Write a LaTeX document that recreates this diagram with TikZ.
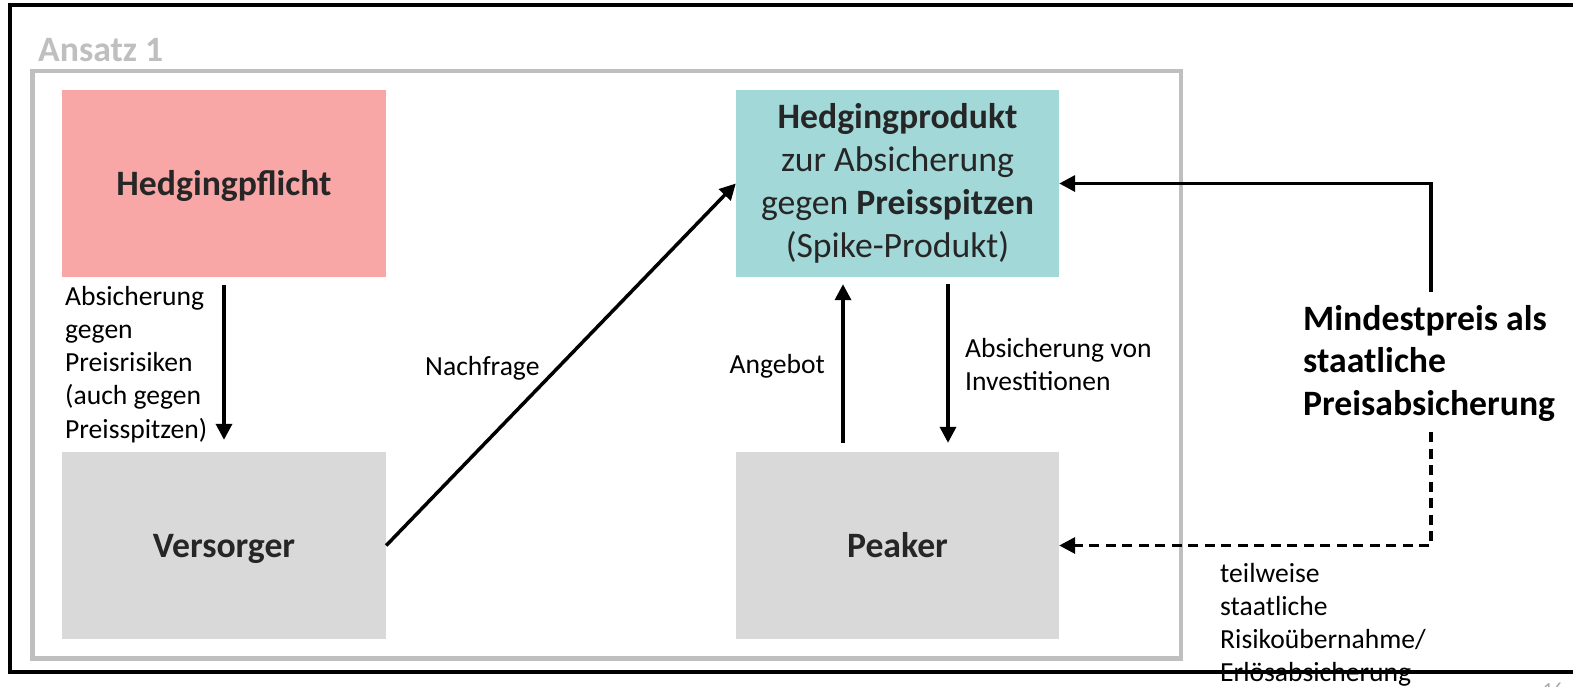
\documentclass[tikz,border=0pt]{standalone}
\usepackage{fontspec}
\setmainfont{Carlito}
\usetikzlibrary{arrows.meta}
\definecolor{pinkbox}{HTML}{F8A6A6}
\definecolor{tealbox}{HTML}{A2D8D8}
\definecolor{graybox}{HTML}{D9D9D9}
\definecolor{framegray}{HTML}{BFBFBF}
\definecolor{boxtext}{HTML}{262626}
\definecolor{pagenum}{HTML}{A6A6A6}
\begin{document}
\begin{tikzpicture}[x=1pt,y=-1pt,
  box/.style={rectangle, minimum width=324pt, minimum height=187pt, inner sep=0pt,
    text=boxtext, font=\fontsize{35.7}{43}\selectfont, align=center},
  single/.style={text height=24pt, text depth=0pt},
  lbl/.style={inner sep=0pt, font=\fontsize{27.6}{33.2}\selectfont, align=left, text=black},
  big/.style={inner sep=0pt, font=\bfseries\fontsize{35.7}{42.5}\selectfont, align=left, text=black},
  arr/.style={line width=3.5pt, -{Triangle[length=16pt,width=16pt]}},
  darr/.style={line width=3.5pt, dash pattern=on 10pt off 6.5pt, -{Triangle[length=16pt,width=16pt]}},
]
\useasboundingbox (0,0) rectangle (1573,686);
\fill[white] (0,0) rectangle (1573,686);

% inner grey frame and title
\draw[framegray, line width=4.5pt] (32.5,71) rectangle (1181,658.5);
\node[anchor=base west, inner sep=0pt, text=framegray, font=\bfseries\fontsize{35.7}{42}\selectfont] (title) at (38,61) {Ansatz 1};

% boxes
\node[box, single, fill=pinkbox] (hpf) at (224,183) {\bfseries Hedgingpflicht};
\node[box, single, fill=graybox] (vers) at (224,545.5) {\bfseries Versorger};
\node[box, fill=tealbox, minimum width=323pt] (hprod) at (897.5,183.5)
  {\textbf{Hedgingprodukt}\\zur Absicherung\\gegen \textbf{Preisspitzen}\\(Spike-Produkt)};
\node[box, single, fill=graybox, minimum width=323pt] (peak) at (897.5,545.5) {\bfseries Peaker};

% labels
\node[lbl, anchor=north west] (l1) at (65,286)
  {Absicherung\\gegen\\Preisrisiken\\(auch gegen\\Preisspitzen)};
\node[lbl, anchor=base west] (l2) at (425,375) {Nachfrage};
\node[lbl, anchor=base east] (l3) at (825,373) {Angebot};
\node[lbl, anchor=north west] (l4) at (965,338) {Absicherung von\\Investitionen};
\node[big, anchor=north west] (mind) at (1303,305) {Mindestpreis als\\staatliche\\Preisabsicherung};
\node[lbl, anchor=north west] (l5) at (1220,563)
  {teilweise\\staatliche\\Risiko\"ubernahme/\\Erl\"osabsicherung};
\node[anchor=north, inner sep=0pt, text=pagenum, font=\fontsize{20}{24}\selectfont] (pg) at (1553,683) {16};

% connector end points at the text block
\coordinate (mtop) at (1431,292);
\coordinate (mbot) at (1431,432);

% connectors
\draw[arr] ([yshift=-8pt]hpf.south) -- ([yshift=12pt]vers.north);
\draw[arr] (vers.east) -- (hprod.west);
\draw[arr] ([xshift=-54.5pt,yshift=9pt]peak.north) -- ([xshift=-54.5pt,yshift=-7pt]hprod.south);
\draw[arr] ([xshift=50.5pt,yshift=-7pt]hprod.south) -- ([xshift=50.5pt,yshift=9pt]peak.north);
\draw[arr] (mtop) |- (hprod.east);
\draw[darr] (mbot) |- (peak.east);

% outer black frame
\draw[black, line width=4pt] (10,5.3) rectangle (1600,672);
\end{tikzpicture}
\end{document}
